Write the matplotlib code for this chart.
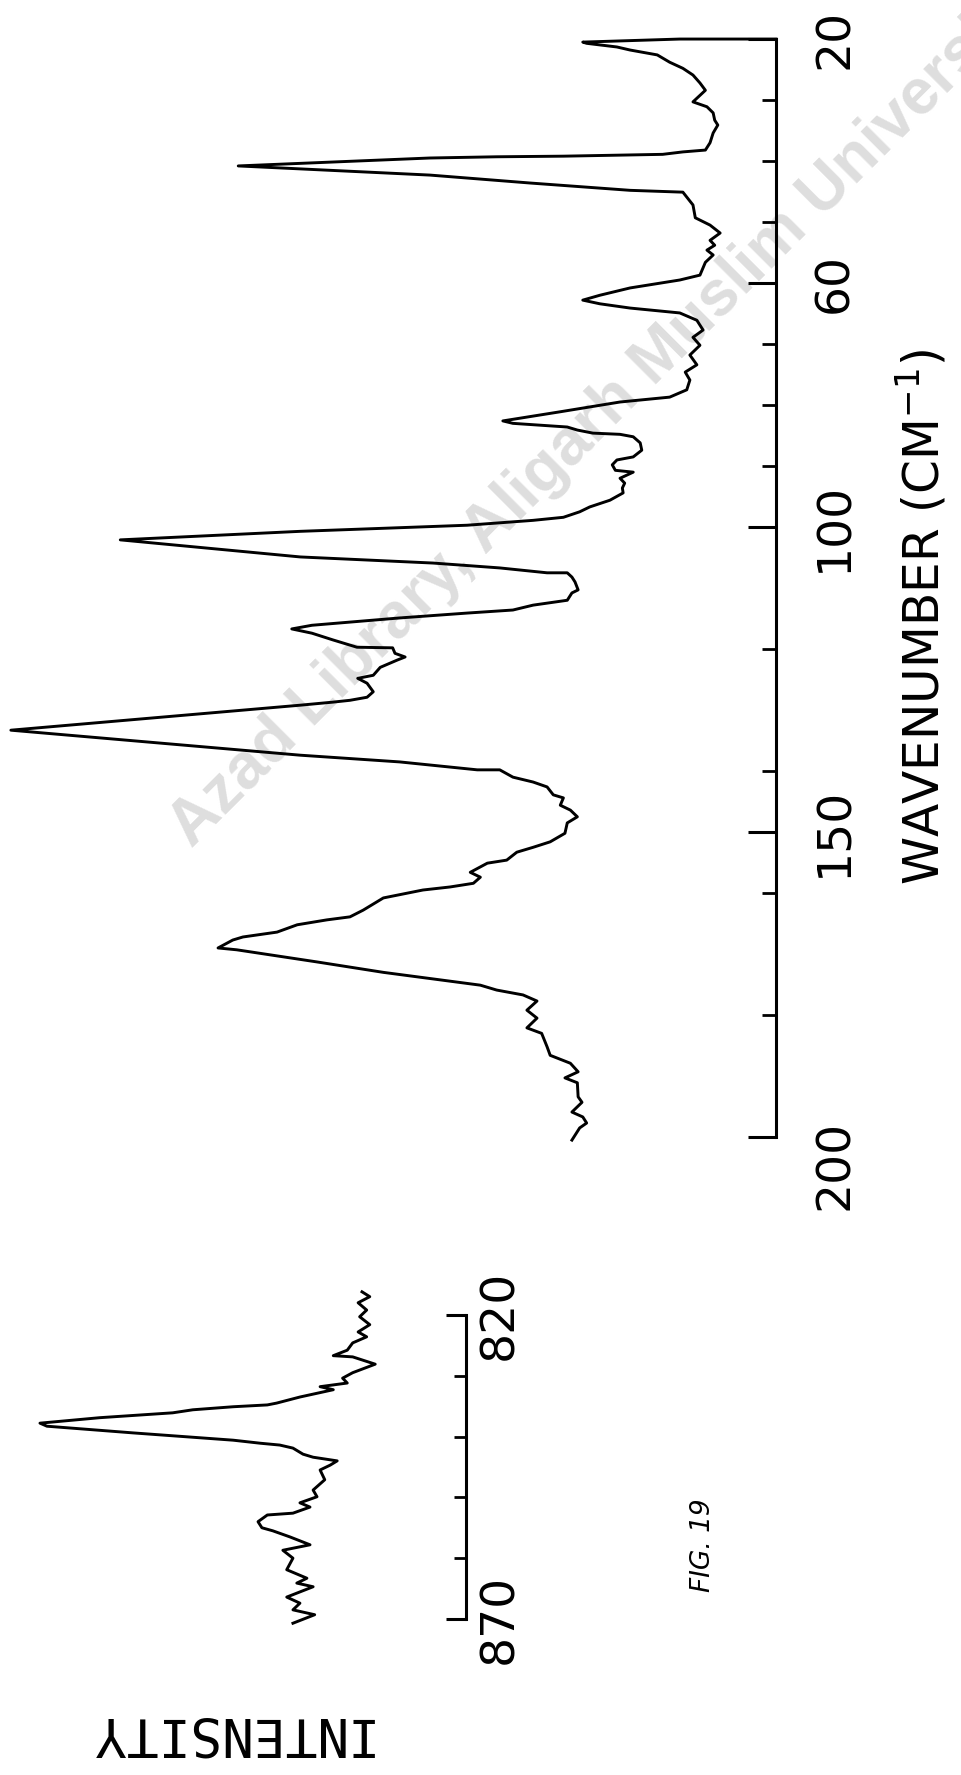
import matplotlib.pyplot as plt
from matplotlib import transforms

# far-infrared trace: wavenumber (cm-1) and pen deflection (chart units)
main_wavenumber = [20.0, 20.0, 20.0, 20.5, 20.7, 21.3, 21.8, 22.6, 23.8, 24.8, 25.9, 27.2, 28.4,
                   29.7, 30.3, 31.1, 32.1, 33.3, 34.1, 35.4, 37.0, 38.2, 38.5, 38.9, 39.0, 39.2,
                   39.3, 39.5, 40.8, 42.3, 43.6, 44.8, 45.1, 47.2, 49.3, 50.5, 51.8, 53.0, 53.8,
                   54.6, 55.4, 56.6, 58.7, 59.5, 60.8, 62.0, 62.8, 63.4, 64.1, 64.9, 66.1, 67.7,
                   68.9, 70.2, 71.8, 73.4, 74.6, 75.9, 77.5, 78.7, 79.5, 81.1, 82.6, 83.0, 83.3,
                   83.6, 84.1, 84.6, 84.8, 85.2, 86.2, 87.4, 88.5, 89.0, 89.8, 90.7, 91.0, 92.0,
                   92.8, 93.6, 94.4, 95.6, 96.7, 97.5, 98.4, 98.9, 99.7, 100.2, 100.7, 102.1,
                   104.9, 105.4, 105.9, 106.7, 107.5, 107.5, 108.2, 109.0, 110.3, 110.8, 112.0,
                   112.8, 113.6, 114.1, 114.9, 116.1, 116.7, 117.4, 118.5, 119.7, 119.8, 120.7,
                   121.3, 121.8, 123.0, 124.3, 124.8, 125.6, 127.0, 127.9, 128.4, 128.7, 129.2,
                   133.3, 137.4, 138.5, 139.8, 139.8, 141.0, 141.8, 142.6, 143.9, 144.4, 145.6,
                   146.4, 147.5, 148.5, 150.2, 151.6, 152.5, 153.3, 154.6, 155.1, 156.6, 157.4,
                   158.4, 159.0, 159.5, 160.8, 162.8, 163.9, 164.4, 165.2, 166.4, 167.2, 167.7,
                   169.0, 169.3, 169.8, 171.3, 173.0, 174.8, 175.1, 175.9, 176.7, 177.7, 179.2,
                   180.5, 182.1, 183.0, 185.2, 186.6, 187.9, 189.3, 190.3, 191.1, 193.4, 194.3,
                   195.9, 196.7, 197.7, 198.5, 200.5]
main_intensity = [0.0, 5.9, 12.4, 24.9, 24.4, 20.5, 18.8, 15.3, 13.7, 12.0, 10.7, 9.8, 9.1,
                  10.2, 10.7, 8.9, 8.1, 7.9, 7.5, 8.1, 8.5, 9.1, 12.0, 14.6, 18.8, 27.4,
                  36.0, 44.6, 69.3, 44.6, 31.7, 18.8, 12.0, 10.7, 10.4, 8.5, 7.2, 8.5, 7.9,
                  8.9, 8.1, 9.1, 9.8, 12.4, 18.8, 22.7, 24.9, 22.7, 18.8, 12.4, 10.2, 9.4,
                  10.7, 9.8, 11.1, 10.2, 11.7, 11.1, 11.5, 13.7, 20.1, 27.8, 35.2, 33.9, 30.4,
                  26.9, 25.6, 23.6, 20.1, 18.4, 17.5, 17.3, 18.4, 20.5, 21.1, 20.7, 18.4, 20.1,
                  19.5, 19.8, 19.7, 21.4, 24.0, 25.3, 27.4, 31.3, 39.8, 50.6, 61.3, 84.5,
                  61.3, 52.7, 44.2, 35.6, 29.5, 26.9, 26.3, 25.9, 25.5, 26.3, 26.9,
                  31.3, 33.9, 39.8, 48.5, 59.8, 62.4, 59.8, 57.1, 54.0, 49.4, 49.1,
                  47.8, 48.8, 51.0, 51.9, 53.9, 52.7, 51.9, 52.7, 54.9, 57.1, 61.3,
                  98.6, 61.3, 48.5, 38.5, 35.6, 33.9, 31.3, 29.5, 28.7, 27.4, 27.8,
                  26.5, 25.6, 26.9, 27.2, 29.1, 31.3, 33.4, 34.7, 37.2, 39.4, 38.1,
                  39.0, 42.0, 45.5, 50.6, 53.2, 54.9, 57.9, 61.7, 64.3, 68.7, 70.0,
                  71.9, 69.5, 66.9, 59.1, 50.6, 39.8, 38.1, 36.0, 32.6, 30.8, 32.1,
                  30.8, 32.1, 30.2, 29.5, 29.1, 26.5, 25.5, 27.2, 25.6, 25.5, 25.0,
                  26.3, 24.9, 24.4, 25.3, 26.3]

# 870-820 cm-1 trace
inset_wavenumber = [816.2, 817.0, 818.0, 819.2, 820.3, 821.6, 822.8, 823.6, 824.6, 825.8, 826.7,
                    826.9, 828.1, 829.5, 830.4, 831.2, 831.8, 832.3, 833.5, 834.5, 834.8, 835.1,
                    835.6, 836.1, 836.9, 837.8, 838.3, 839.4, 840.2, 840.6, 841.1, 841.4, 841.9,
                    842.9, 843.4, 844.0, 844.7, 845.5, 847.1, 848.8, 849.9, 850.9, 851.6, 852.6,
                    852.9, 854.0, 855.0, 855.5, 856.5, 857.8, 858.7, 860.0, 861.9, 863.3, 864.1,
                    864.7, 866.4, 867.4, 868.5, 869.3, 870.7]
inset_intensity = [13.4, 12.4, 13.9, 12.8, 13.7, 12.4, 13.9, 12.8, 14.6, 15.3, 17.1,
                   14.6, 11.7, 14.6, 15.9, 15.3, 18.8, 17.1, 21.4, 24.4, 25.6, 30.0,
                   35.2, 37.8, 47.2, 54.9, 54.0, 42.9, 34.3, 30.0, 26.5, 24.0, 22.3,
                   21.0, 19.7, 16.6, 17.5, 18.8, 18.2, 19.7, 19.2, 21.4, 20.1, 22.3,
                   25.6, 26.8, 26.3, 24.9, 22.7, 20.1, 23.6, 22.3, 23.1, 20.5, 21.8,
                   19.7, 23.1, 21.4, 22.3, 19.5, 22.3]

main_major = [20, 60, 100, 150, 200]
main_minor = [30, 40, 50, 70, 80, 90, 120, 140, 160, 180]
inset_major = [820, 870]
inset_minor = [830, 840, 850, 860]

fig = plt.figure(figsize=(9.61, 17.75), dpi=100)

# library watermark, light grey, under everything
fig.text(0.2, 0.522, 'Azad Library, Aligarh Muslim University', ha='left', va='baseline',
         fontsize=46, color='#dedede', rotation=45, rotation_mode='anchor',
         family='Liberation Sans', weight='bold', zorder=-5)

ax = fig.add_axes([0.0, 0.3594, 0.8075, 0.6186])
ax2 = fig.add_axes([0.0, 0.0879, 0.4849, 0.1713])

ax.plot(main_intensity, main_wavenumber, color='black', lw=2.1, clip_on=False)
ax.set_xlim(100, 0)
ax.set_ylim(200, 20)

ax2.plot(inset_intensity, inset_wavenumber, color='black', lw=2.1, clip_on=False)
ax2.set_xlim(60.05, 0)
ax2.set_ylim(870, 820)

for a, major, minor, lmaj, lmin, dx in [(ax, main_major, main_minor, 20, 10, 59),
                                        (ax2, inset_major, inset_minor, 14.4, 8.6, 34)]:
    a.patch.set_visible(False)
    for s in ['top', 'bottom', 'left']:
        a.spines[s].set_visible(False)
    a.spines['right'].set_linewidth(2.2)
    a.set_xticks([])
    a.set_yticks(major)
    a.set_yticks(minor, minor=True)
    a.yaxis.set_ticks_position('right')
    a.tick_params(axis='y', which='major', direction='in', length=lmaj, width=2.2,
                  labelright=False, labelleft=False)
    a.tick_params(axis='y', which='minor', direction='in', length=lmin, width=2.0)
    tr = a.get_yaxis_transform() + transforms.ScaledTranslation(dx / 100, 0, fig.dpi_scale_trans)
    for v in major:
        off = 0
        if v == 200:
            off = -28 / 100
        t = tr + transforms.ScaledTranslation(0, off, fig.dpi_scale_trans)
        a.text(1, v, str(v), transform=t, rotation=90, ha='center', va='center',
               fontsize=34, family='DejaVu Sans')

fig.text(922 / 961, 1 - 617 / 1775, 'WAVENUMBER (CM$^{-1}$)', rotation=90,
         ha='center', va='center', fontsize=35, family='DejaVu Sans')
fig.text(227 / 961, 1 - 1732 / 1775, 'INTENSITY', rotation=180, ha='center',
         va='center', fontsize=38, family='DejaVu Sans Mono')
fig.text(703 / 961, 1 - 1545 / 1775, 'FIG. 19', rotation=90, ha='center',
         va='center', fontsize=19, style='italic', family='DejaVu Sans')

fig.savefig('out.png', dpi=100, facecolor='white')
